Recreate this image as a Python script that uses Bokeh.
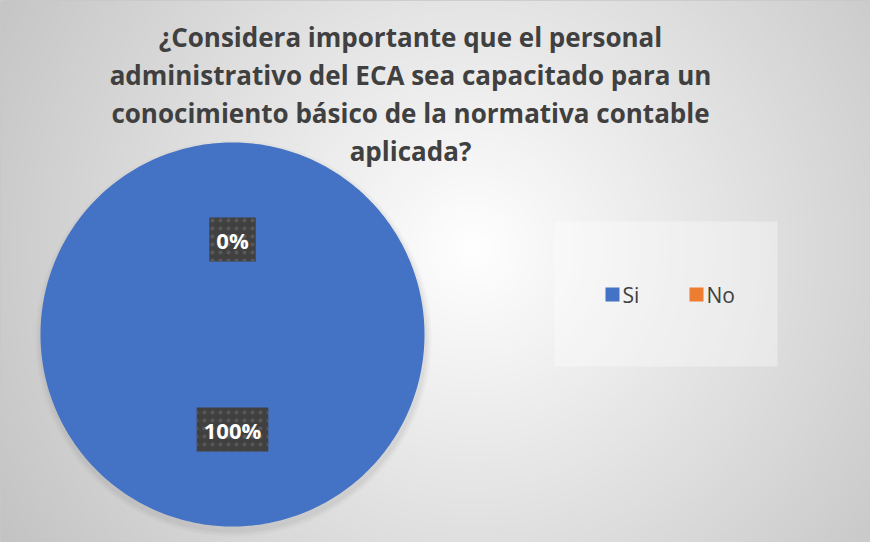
import numpy as np
from bokeh.plotting import figure
from bokeh.models import ColumnDataSource, Range1d
from bokeh.core.properties import value
from bokeh.embed import file_html
from bokeh.resources import INLINE

# ---- data ----
categories = ["Si", "No"]
values = [100, 0]
colors = ["#4472C4", "#ED7D31"]
title_lines = [
    "¿Considera importante que el personal",
    "administrativo del ECA sea capacitado para un",
    "conocimiento básico de la normativa contable",
    "aplicada?",
]

W, H = 870, 542
p = figure(width=W, height=H, x_range=Range1d(0, W), y_range=Range1d(0, H),
           output_backend="svg", toolbar_location=None, min_border=0)
p.axis.visible = False
p.grid.visible = False
p.outline_line_color = "#c8c8c8"
p.background_fill_color = "#e6e6e6"
p.border_fill_color = "white"

# ---- radial gradient background (decoration) ----
gw, gh = W // 2, H // 2
gx, gy = np.meshgrid(np.arange(gw) * 2.0, np.arange(gh) * 2.0)
cx, cy = 472.0, 292.0
d = np.sqrt((gx - cx) ** 2 + (gy - cy) ** 2)
g = np.clip(255 - 0.108 * d, 190, 255).astype(np.uint32)
img = (255 << 24) | (g << 16) | (g << 8) | g
p.image_rgba(image=[img.astype(np.uint32)], x=0, y=0, dw=W, dh=H)

# ---- pie ----
pcx, pcy, r = 232.0, 208.0, 192.0
vals = np.array(values, dtype=float)
frac = vals / vals.sum()
cum_end = np.cumsum(frac)
cum_start = cum_end - frac
# clockwise from 12 o'clock
a0 = np.pi / 2 - 2 * np.pi * cum_start
a1 = np.pi / 2 - 2 * np.pi * cum_end
mid = (a0 + a1) / 2

# soft shadow
for k, a in [(6, 0.04), (4, 0.05), (2, 0.07)]:
    p.circle(x=pcx + 1, y=pcy - 4, radius=r + k, fill_color="#707070",
             fill_alpha=a, line_color=None)

xs, ys, cols, cats = [], [], [], []
for i, f in enumerate(frac):
    if f <= 0:
        continue
    t = np.linspace(a0[i], a1[i], 361)
    xs.append([pcx] + list(pcx + r * np.cos(t)))
    ys.append([pcy] + list(pcy + r * np.sin(t)))
    cols.append(colors[i])
    cats.append(categories[i])
src = ColumnDataSource(dict(xs=xs, ys=ys, color=cols, cat=cats))
p.patches(xs="xs", ys="ys", fill_color="color", line_color=None, source=src)

rl = 95.0
lab = ColumnDataSource(dict(
    x=list(pcx + rl * np.cos(mid)),
    y=list(pcy + rl * np.sin(mid)),
    text=[f"{int(round(f * 100))}%" for f in frac],
))
p.text(x="x", y="y", text="text", source=lab, text_color="white",
       text_font=value("Open Sans"), text_font_style="bold",
       text_font_size="22px", text_align="center", text_baseline="middle",
       background_fill_color="#404040", padding=7,
       background_hatch_pattern="dot", background_hatch_color="#585858",
       background_hatch_scale=8, background_hatch_weight=1.5)

# ---- title ----
tsrc = ColumnDataSource(dict(x=[410] * len(title_lines),
                             y=[506 - 38 * i for i in range(len(title_lines))],
                             text=title_lines))
p.text(x="x", y="y", text="text", source=tsrc, text_color="#404040",
       text_font=value("Open Sans"), text_font_style="bold",
       text_font_size="26px", text_align="center", text_baseline="middle")

# ---- legend ----
p.rect(x=[665.5], y=[248.5], width=223, height=145, fill_color="white",
       fill_alpha=0.35, line_color=None)
lx = [612 + 84 * i for i in range(len(categories))]
leg = ColumnDataSource(dict(x=lx, tx=[v + 10 for v in lx],
                            y=[248] * len(categories), cat=categories,
                            color=colors))
p.scatter(x="x", y="y", source=leg, marker="square", size=14,
          fill_color="color", line_color=None)
p.text(x="tx", y="y", text="cat", source=leg, text_color="#404040",
       text_font=value("Open Sans"), text_font_size="21px",
       text_align="left", text_baseline="middle")

open("out.html", "w").write(file_html(p, INLINE))
